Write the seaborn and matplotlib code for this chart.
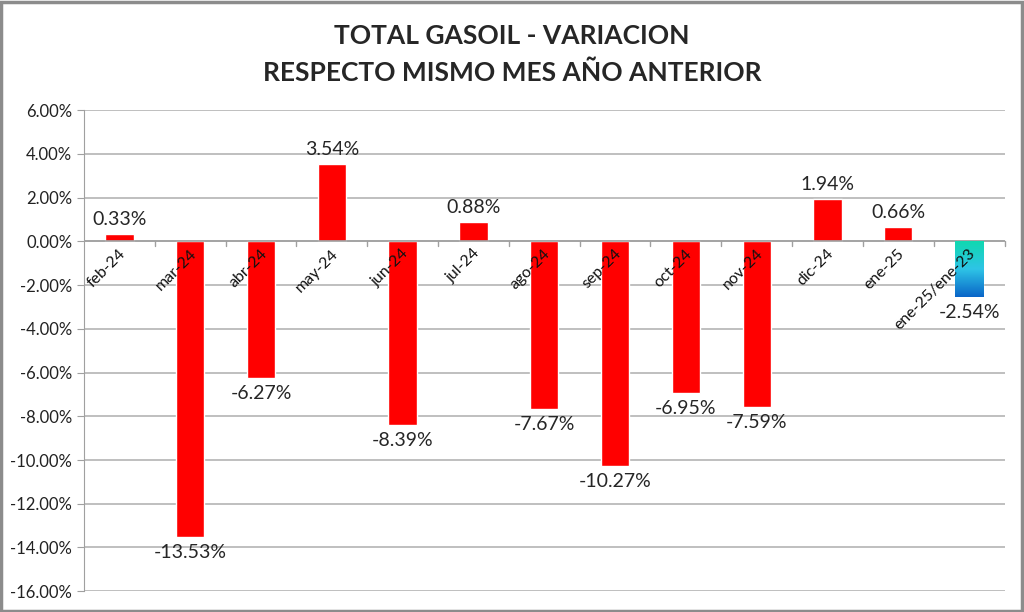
import numpy as np
import pandas as pd
import seaborn as sns
import matplotlib.pyplot as plt
from matplotlib.colors import LinearSegmentedColormap
from matplotlib.patches import Rectangle
from matplotlib.ticker import FuncFormatter
import matplotlib.transforms as mtransforms

months = ['feb-24', 'mar-24', 'abr-24', 'may-24', 'jun-24', 'jul-24', 'ago-24',
          'sep-24', 'oct-24', 'nov-24', 'dic-24', 'ene-25', 'ene-25/ene-23']
variation = [0.33, -13.53, -6.27, 3.54, -8.39, 0.88, -7.67,
             -10.27, -6.95, -7.59, 1.94, 0.66, -2.54]
bar_colors = ['#ff0000'] * 12 + ['none']

sns.set_style("white")
plt.rcParams['font.family'] = ['Lato', 'DejaVu Sans']

df = pd.DataFrame({'mes': months, 'var': variation})

fig = plt.figure(figsize=(10.24, 6.12), dpi=100)
ax = fig.add_axes([0.082, 0.034, 0.899, 0.786])

sns.barplot(data=df, x='mes', y='var', hue='mes', palette=bar_colors,
            width=0.4, legend=False, ax=ax, saturation=1)

# last bar is the yearly comparison, drawn with a gradient
last = ax.patches[-1]
x0, w = last.get_x(), last.get_width()
grad = LinearSegmentedColormap.from_list('g', ['#10d8b0', '#2ec4e6', '#0a66c8'])
img = ax.imshow(np.linspace(0, 1, 100).reshape(-1, 1), cmap=grad, aspect='auto',
                extent=[x0, x0 + w, variation[-1], 0], zorder=2)
img.set_clip_path(Rectangle((x0, variation[-1]), w, -variation[-1], transform=ax.transData))

ax.set_ylim(-16, 6)
ax.set_yticks(np.arange(-16, 7, 2))
ax.yaxis.set_major_formatter(FuncFormatter(lambda v, p: '{:.2f}%'.format(v)))
ax.set_xlim(-0.5, len(months) - 0.5)
ax.grid(axis='y', color='#b4b4b4', linewidth=1.2)
ax.set_axisbelow(True)
for s in ['top', 'right', 'bottom']:
    ax.spines[s].set_visible(False)
ax.spines['left'].set_color('#a0a0a0')
ax.axhline(0, color='#a0a0a0', linewidth=1.2, zorder=1)
ax.tick_params(axis='y', left=True, length=5, color='#a0a0a0', labelsize=12,
               labelcolor='#222222')
ax.set_xlabel('')
ax.set_ylabel('')
ax.set_xticks([])

# category ticks and labels on the zero line
for i, m in enumerate(months):
    ax.plot([i + 0.5, i + 0.5], [0, -0.2], color='#a0a0a0', lw=1, clip_on=False)
    off = mtransforms.offset_copy(ax.transData, fig=fig, x=4, y=-10, units='dots')
    ax.text(i, 0, m, rotation=45, rotation_mode='anchor', ha='right', va='center',
            fontsize=11.5, color='#111111', transform=off)

# value labels
for i, v in enumerate(variation):
    if v >= 0:
        off = mtransforms.offset_copy(ax.transData, fig=fig, x=0, y=6, units='dots')
        ax.text(i, v, '{:.2f}%'.format(v), ha='center', va='bottom', fontsize=14,
                transform=off)
    else:
        off = mtransforms.offset_copy(ax.transData, fig=fig, x=0, y=-7, units='dots')
        ax.text(i, v, '{:.2f}%'.format(v), ha='center', va='top', fontsize=14,
                transform=off)

fig.text(0.5, 0.941, 'TOTAL GASOIL - VARIACION', ha='center', va='center',
         fontsize=19, fontweight='bold')
fig.text(0.5, 0.881, 'RESPECTO MISMO MES AÑO ANTERIOR', ha='center', va='center',
         fontsize=19, fontweight='bold')

fig.patches.append(Rectangle((0.001, 0.002), 0.997, 0.995, transform=fig.transFigure,
                             fill=False, edgecolor='#8c8c8c', linewidth=2.5))

fig.savefig('out.png', dpi=100)
